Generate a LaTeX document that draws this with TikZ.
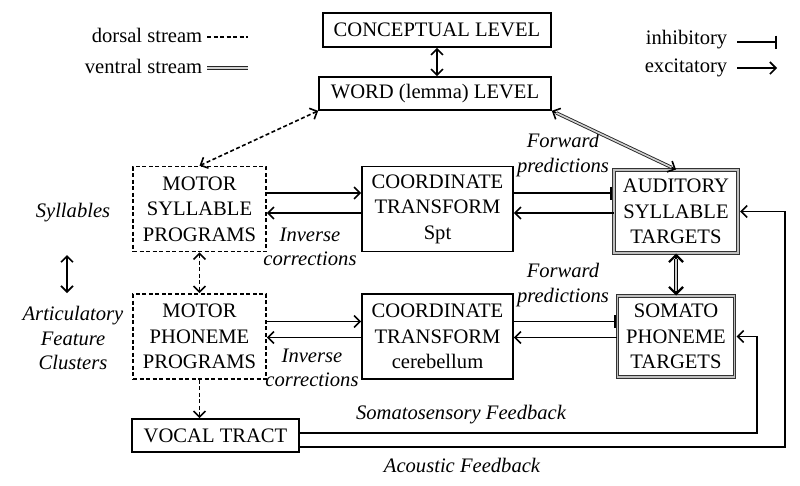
\documentclass[tikz,border=0pt]{standalone}
\usepackage{fontspec}
\setmainfont{Liberation Serif}
\usetikzlibrary{arrows.meta,calc}
\begin{document}
\begin{tikzpicture}[x=1pt,y=-1pt,
  font=\fontsize{20.6}{25.5}\selectfont,
  >={Straight Barb[length=6pt,width=12pt,line width=1.6pt]},
  line width=1.6pt,
  box/.style={draw, rectangle, inner sep=0pt, align=center},
  dbox/.style={box, dash pattern=on 4pt off 2.5pt},
  tbox/.style={box, draw=black!80, line width=1pt, double=gray!50, double distance=1.8pt},
  lbl/.style={font=\fontsize{20.6}{24.5}\selectfont\itshape, align=center, inner sep=0pt},
  leg/.style={anchor=east, inner sep=0pt},
  dors/.style={dash pattern=on 4pt off 2.5pt},
  vent/.style={draw=black!85, line width=0.9pt, double=gray!35, double distance=1.6pt},
  inh/.style={-{Bar[width=13pt,line width=1.6pt]}}
]
\useasboundingbox (0,0) rectangle (800,485);

% legend
\node[leg] (dl) at (203,35) {dorsal stream};
\draw[dors] ($(dl.east)+(4,2)$) -- ++(41,0);
\node[leg] (vl) at (203,66) {ventral stream};
\draw[vent] ($(vl.east)+(4,2)$) -- ++(41,0);
\node[leg] (il) at (728,40) {inhibitory};
\draw[inh] ($(il.east)+(9,2)$) -- ++(40,0);
\node[leg] (el) at (728,68) {excitatory};
\draw[->] ($(el.east)+(9,0)$) -- ++(40,0);

% boxes
\node[box, minimum width=228pt, minimum height=34pt] (concept) at (437,30) {CONCEPTUAL LEVEL};
\node[box, minimum width=232pt, minimum height=33pt] (word) at (435,93.5) {WORD (lemma) LEVEL};
\node[dbox, minimum width=133pt, minimum height=85pt] (msp) at (199.5,209) {MOTOR\\SYLLABLE\\PROGRAMS};
\node[box, minimum width=151pt, minimum height=85pt] (cts) at (437.5,209) {COORDINATE\\TRANSFORM\\Spt};
\node[tbox, minimum width=124pt, minimum height=83pt] (ast) at (676,211.5) {AUDITORY\\SYLLABLE\\TARGETS};
\node[dbox, minimum width=133pt, minimum height=85pt] (mpp) at (199.5,336.5) {MOTOR\\PHONEME\\PROGRAMS};
\node[box, minimum width=151pt, minimum height=85pt] (ctc) at (437.5,336.5) {COORDINATE\\TRANSFORM\\cerebellum};
\node[tbox, minimum width=117pt, minimum height=81pt] (spt) at (676,336.5) {SOMATO\\PHONEME\\TARGETS};
\node[box, minimum width=167pt, minimum height=33pt] (vt) at (215.5,435.5) {VOCAL TRACT};

% labels
\node[lbl] (syl) at (73,213) {Syllables};
\node[lbl] (artic) at (73,338) {Articulatory\\Feature\\Clusters};
\coordinate (la) at (67,255);
\coordinate (lb) at (67,293);
\draw[<->] (la) -- (lb);
\node[lbl] (fp1) at (563,155) {Forward\\predictions};
\node[lbl] (fp2) at (563,285) {Forward\\predictions};
\node[lbl] (ic1) at (310,247) {Inverse\\corrections};
\node[lbl] (ic2) at (312,368) {Inverse\\corrections};
\node[lbl] (sfl) at (461,415) {Somatosensory Feedback};
\node[lbl] (afl) at (462,465) {Acoustic Feedback};

% vertical connectors
\draw[<->] (concept.south) -- (concept.south |- word.north);
\draw[dors,<->] (word.south west) -- (msp.north);
\draw[dors,<->] (msp.south) -- (mpp.north);
\draw[dors,->] (mpp.south) -- (mpp.south |- vt.north);

% ventral stream
\draw[<->] (word.south east) -- (ast.north);
\draw[vent, shorten <=5pt, shorten >=5pt] (word.south east) -- (ast.north);
\draw[line width=2pt, {Straight Barb[length=7pt,width=14pt,line width=2.2pt]}-{Straight Barb[length=7pt,width=14pt,line width=2.2pt]}] (ast.south) -- (spt.north);
\draw[draw=black, line width=1.3pt, double=gray!40, double distance=1.6pt, shorten <=5pt, shorten >=5pt] (ast.south) -- (spt.north);

% top row
\coordinate (t1) at ($(msp.east)+(0,-16)$);
\coordinate (t2) at ($(msp.east)+(0,4)$);
\draw[->] (t1) -- (t1 -| cts.west);
\draw[->] (t2 -| cts.west) -- (t2);
\coordinate (t3) at ($(cts.east)+(0,-16)$);
\coordinate (t4) at ($(cts.east)+(0,4)$);
\draw[inh] (t3) -- ($(t3 -| ast.west)+(-1.5,0)$);
\draw[->] (t4 -| ast.west) -- (t4);

% bottom row
\coordinate (b1) at ($(mpp.east)+(0,-15)$);
\coordinate (b2) at ($(mpp.east)+(0,1)$);
\draw[->] (b1) -- (b1 -| ctc.west);
\draw[->] (b2 -| ctc.west) -- (b2);
\coordinate (b3) at ($(ctc.east)+(0,-15)$);
\coordinate (b4) at ($(ctc.east)+(0,1)$);
\draw[inh] (b3) -- ($(b3 -| spt.west)+(-1.5,0)$);
\draw[->] (b4 -| spt.west) -- (b4);

% feedback
\coordinate (sx) at (757,0);
\coordinate (ax) at (785,0);
\coordinate (s1) at ($(vt.east)+(0,-2.5)$);
\coordinate (a1) at ($(vt.east)+(0,11.5)$);
\draw[->] (s1) -- (s1 -| sx) |- ($(spt.east)+(1.5,0)$);
\draw[->] (a1) -- (a1 -| ax) |- ($(ast.east)+(1.5,0)$);
\end{tikzpicture}
\end{document}
